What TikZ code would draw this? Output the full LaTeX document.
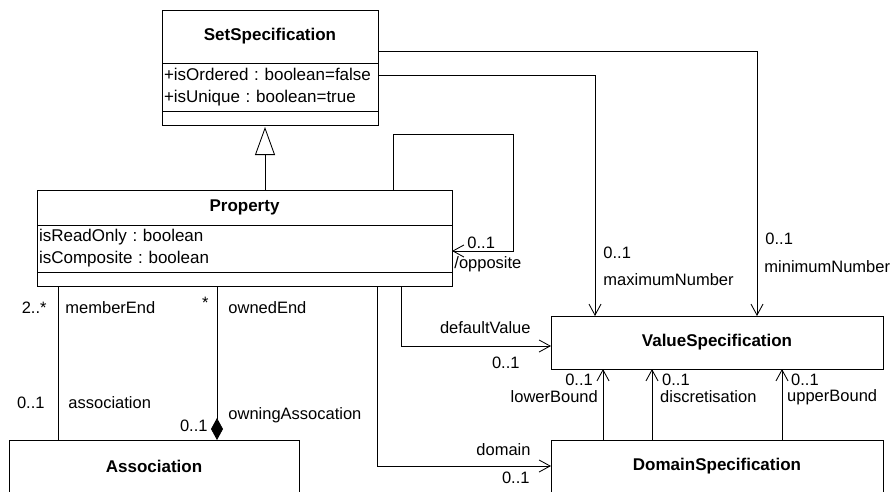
\documentclass[tikz,border=0pt]{standalone}
\usepackage{fontspec}
\setmainfont{Liberation Sans}
\usetikzlibrary{arrows.meta}
\frenchspacing

\newcommand{\umlsize}{\fontsize{17}{22}\selectfont}
\newcommand{\lblsize}{\fontsize{16.5}{20}\selectfont}

\tikzset{
    classbox/.style={draw, line width=.3mm, inner sep=0pt, outer sep=0pt, anchor=north west},
    lbl/.style={inner sep=0pt, font=\lblsize},
    link/.style={line width=.3mm},
    nav/.style={line width=.3mm, -{Straight Barb[length=11pt,width=12pt]}},
}

\begin{document}
\begin{tikzpicture}[x=1pt, y=-1pt, font=\umlsize]
        \useasboundingbox (0,0) rectangle (891,491);
        \clip (0,0) rectangle (891,491);

        \node[classbox, minimum width=216pt, minimum height=53pt, font=\umlsize\bfseries] (setname) at (162,10) {SetSpecification};
        \node[classbox, text width=212pt, inner xsep=2pt, minimum height=48pt, align=left] (setattr) at (setname.south west) {+isOrdered : boolean=false\\+isUnique : boolean=true};
        \node[classbox, minimum width=216pt, minimum height=14pt] (setops) at (setattr.south west) {};

        \node[classbox, minimum width=415pt, minimum height=35pt, font=\umlsize\bfseries] (propname) at (37,190) {Property};
        \node[classbox, text width=411pt, inner xsep=2pt, minimum height=47pt, align=left] (propattr) at (propname.south west) {isReadOnly : boolean\\isComposite : boolean};
        \node[classbox, minimum width=415pt, minimum height=14pt] (propops) at (propattr.south west) {};

        \node[classbox, minimum width=332pt, minimum height=53pt, font=\umlsize\bfseries] (valname) at (551,316) {ValueSpecification};
        \node[classbox, minimum width=332pt, minimum height=52pt, font=\umlsize\bfseries] (domname) at (551,440) {DomainSpecification};
        \node[classbox, minimum width=290pt, minimum height=52pt, font=\umlsize\bfseries] (assocname) at (9,440) {Association};

        \coordinate (gen) at ([xshift=-5pt]setops.south);
        \draw[link, -{Triangle[open, length=28pt, width=20pt]}, shorten >=2pt] (propname.north -| gen) -- (gen);

        \draw[nav] ([xshift=-59pt]propname.north east) -- ++(0,-56) -- ++(120,0) |- ([yshift=-2.5pt]propattr.east)
        node[lbl, anchor=west] (oppmult) at (467,243) {0..1}
        node[lbl, anchor=west] (opprole) at (454,264) {/opposite};

        \draw[nav] ([yshift=12pt]setattr.east) -| ([xshift=44pt]valname.north west)
        node[lbl, anchor=west] (maxmult) at (603,253) {0..1}
        node[lbl, anchor=west] (maxrole) at (603,280) {maximumNumber};
        \draw[nav] ([yshift=-14.5pt]setname.east) -| ([xshift=206pt]valname.north west)
        node[lbl, anchor=west] (minmult) at (765,239) {0..1}
        node[lbl, anchor=west] (minrole) at (764,267) {minimumNumber};

        \draw[nav] ([xshift=364pt]propops.south west) |- ([yshift=-3.5pt]valname.west)
        node[lbl, anchor=east] (dvrole) at (531,328) {defaultValue}
        node[lbl, anchor=east] (dvmult) at (520,363) {0..1};
        \draw[nav] ([xshift=340pt]propops.south west) |- (domname.west)
        node[lbl, anchor=east] (domrole) at (531,450) {domain}
        node[lbl, anchor=east] (dommult) at (530,478) {0..1};

        \draw[link] ([xshift=21pt]propops.south west) -- ([xshift=49pt]assocname.north west)
        node[lbl, anchor=east] (memmult) at (47,308) {2..*}
        node[lbl, anchor=west] (memrole) at (65,308) {memberEnd}
        node[lbl, anchor=east] (asmult) at (45,403) {0..1}
        node[lbl, anchor=west] (asrole) at (68,403) {association};
        \draw[link, -{Diamond[length=22pt, width=12pt]}] ([xshift=180pt]propops.south west) -- ([xshift=208pt]assocname.north west)
        node[lbl, anchor=east] (ownmult) at (209,303) {*}
        node[lbl, anchor=west] (ownrole) at (228,308) {ownedEnd}
        node[lbl, anchor=east] (oamult) at (208,426) {0..1}
        node[lbl, anchor=west] (oarole) at (228,415) {owningAssocation};

        \foreach \dx in {52,101,231}
            \draw[nav] ([xshift=\dx pt]domname.north west) -- ([xshift=\dx pt]valname.south west);
        \node[lbl, anchor=east] (lomult) at (593,380) {0..1};
        \node[lbl, anchor=east] (lorole) at (598,397) {lowerBound};
        \node[lbl, anchor=west] (dismult) at (662,380) {0..1};
        \node[lbl, anchor=west] (disrole) at (660,397) {discretisation};
        \node[lbl, anchor=west] (upmult) at (791,380) {0..1};
        \node[lbl, anchor=west] (uprole) at (787,397) {upperBound};
\end{tikzpicture}
\end{document}
